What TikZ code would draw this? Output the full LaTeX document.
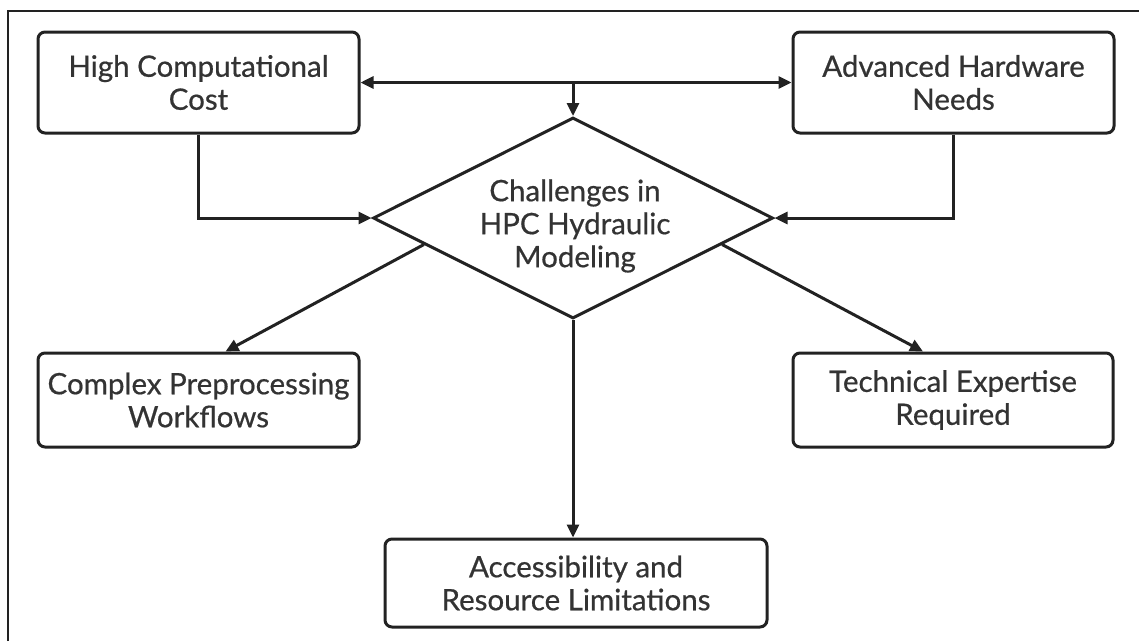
\documentclass[tikz,border=0pt]{standalone}
\usepackage{fontspec}
\setmainfont{Lato}[FakeBold=0.6]
\usetikzlibrary{arrows.meta,calc,shapes.geometric}
\definecolor{ink}{HTML}{222222}
\definecolor{txt}{HTML}{333333}
\begin{document}
\begin{tikzpicture}[x=1pt,y=-1pt,
  every node/.style={font=\fontsize{29.5}{33}\selectfont, text=txt, align=center},
  box/.style={draw=ink, line width=3pt, rounded corners=7pt, minimum width=321pt, minimum height=101pt, inner sep=0pt},
  conn/.style={draw=ink, line width=3pt, -{Triangle[length=13pt,width=12pt]}},
  plain/.style={draw=ink, line width=3pt}
]
\useasboundingbox (0,0) rectangle (1139,641);
% outer frame (top and left edges)
\draw[ink, line width=2pt] (8,641) -- (8,11) -- (1139,11);

\node[box] (cost) at (198.5,82.5) {High Computational\\Cost};
\node[box] (hw) at (953.5,82.5) {Advanced Hardware\\Needs};
\node[box, minimum height=94pt] (pre) at (198.5,400) {Complex Preprocessing\\Workflows};
\node[box, minimum width=320pt, minimum height=94pt] (tech) at (953,400) {Technical Expertise\\Required};
\node[box, minimum width=382pt, minimum height=88pt] (acc) at (576,583) {Accessibility and\\Resource Limitations};

\node[diamond, draw=ink, line width=3pt, shape aspect=2, minimum width=400pt, minimum height=201pt, inner sep=0pt] (ch) at (573,218) {};
\node (chtxt) at (575,226) {Challenges in\\HPC Hydraulic\\Modeling};

% top link between the two upper boxes, feeding the diamond
\draw[plain, {Triangle[length=13pt,width=12pt]}-{Triangle[length=13pt,width=12pt]}] (cost.east) -- (hw.west);
\coordinate (mid) at ($(cost.east)!0.5!(hw.west)$);
\draw[conn] (mid -| ch.north) -- (ch.north);

% side feeds into the diamond
\draw[conn] (cost.south) |- (ch.west);
\draw[conn] (hw.south) |- (ch.east);

% outgoing links
\draw[conn] ($(ch.west)!0.26!(ch.south)$) -- ($(pre.north)+(27,0)$);
\draw[conn] ($(ch.east)!0.26!(ch.south)$) -- ($(tech.north)+(-30,0)$);
\draw[conn] (ch.south) -- (acc.north -| ch.south);
\end{tikzpicture}
\end{document}
